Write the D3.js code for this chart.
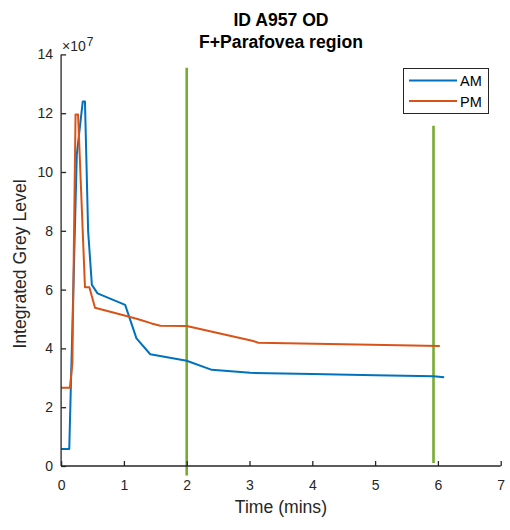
<!DOCTYPE html>
<html><head><meta charset="utf-8">
<script src="https://cdn.jsdelivr.net/npm/d3@7"></script>
<style>body{margin:0;background:#fff}svg{display:block;font-family:"Liberation Sans",Arial,sans-serif}</style>
</head><body><svg id="c" width="510" height="530"></svg>
<script>
const titleLines = ["ID A957 OD", "F+Parafovea region"];
const xLabel = "Time (mins)";
const yLabel = "Integrated Grey Level";
const xTicks = [0,1,2,3,4,5,6,7];
const yTicks = [0,2,4,6,8,10,12,14];
const seriesNames = ["AM", "PM"];
// values in units of 1e7
const amTime = [0,0.13,0.25,0.345,0.38,0.43,0.49,0.58,1.02,1.20,1.42,2.0,2.40,3.01,4.0,5.0,5.93,6.10];
const amVal  = [0.58,0.58,10.6,12.4,12.4,8.0,6.16,5.87,5.48,4.34,3.8,3.58,3.27,3.17,3.13,3.09,3.05,3.02];
const pmTime = [0,0.14,0.18,0.23,0.27,0.38,0.45,0.54,1.04,1.23,1.44,1.58,2.0,3.06,3.14,4.5,6.03];
const pmVal  = [2.66,2.66,3.5,11.96,11.96,6.08,6.08,5.38,5.1,4.99,4.85,4.77,4.76,4.25,4.19,4.14,4.08];
const markTime = [2.0, 5.93];
const markLow  = [-0.32, 0.1];
const markHigh = [13.55, 11.57];
const colors = ["#0072BD", "#D95319"];
const markColor = "#77AC30";

const svg = d3.select("#c");
const x = d3.scaleLinear().domain([0,7]).range([61.1,500.7]);
const y = d3.scaleLinear().domain([0,14]).range([466,54.4]);
const axisColor = "#262626";
const font = '"Liberation Sans",Arial,sans-serif';

// title
svg.append("g").selectAll("text").data(titleLines).join("text")
  .attr("x", 281).attr("y", (d,i)=>26+i*22).attr("text-anchor","middle")
  .attr("font-weight","bold").attr("font-size",17.6).attr("fill","#000").text(d=>d);

// green marker lines
svg.append("g").selectAll("line").data(markTime).join("line")
  .attr("x1",d=>x(d)).attr("x2",d=>x(d))
  .attr("y1",(d,i)=>y(markLow[i])).attr("y2",(d,i)=>y(markHigh[i]))
  .attr("stroke",markColor).attr("stroke-width",2.6);

// data lines
const line = d3.line().x(d=>x(d[0])).y(d=>y(d[1]));
const series = [d3.zip(amTime, amVal), d3.zip(pmTime, pmVal)];
svg.append("g").selectAll("path").data(series).join("path")
  .attr("d", line).attr("fill","none").attr("stroke",(d,i)=>colors[i])
  .attr("stroke-width",2).attr("stroke-linejoin","round");

// axes
const xAxis = d3.axisBottom(x).tickValues(xTicks).tickSizeInner(-5).tickSizeOuter(0).tickPadding(14).tickFormat(d3.format("d"));
const gx = svg.append("g").attr("transform",`translate(0,${y(0)})`).call(xAxis);
const yAxis = d3.axisLeft(y).tickValues(yTicks).tickSizeInner(-5).tickSizeOuter(0).tickPadding(8).tickFormat(d3.format("d"));
const gy = svg.append("g").attr("transform",`translate(${x(0)},0)`).call(yAxis);
[gx,gy].forEach(g=>{
  g.select(".domain").attr("stroke",axisColor).attr("stroke-width",1.3);
  g.selectAll(".tick line").attr("stroke",axisColor).attr("stroke-width",1.3);
  g.selectAll(".tick text").attr("fill",axisColor).attr("font-size",14).attr("font-family",font);
});
gx.select(".domain").attr("d",`M${x(0)},0H${x(7)}`);
gy.select(".domain").attr("d",`M0,${y(0)}V${y(14)}`);

// exponent
const ex = svg.append("text").attr("x",62).attr("y",51).attr("fill",axisColor).attr("font-size",14);
ex.append("tspan").text("\u00d710");
ex.append("tspan").attr("dx",1).attr("dy",-5).attr("font-size",12).text("7");

// axis labels
svg.append("text").attr("x",x(3.5)).attr("y",513).attr("text-anchor","middle")
  .attr("font-size",17.6).attr("fill",axisColor).text(xLabel);
svg.append("text").attr("transform",`translate(26,264) rotate(-90)`).attr("text-anchor","middle")
  .attr("font-size",17.6).attr("fill",axisColor).text(yLabel);

// legend
const lg = svg.append("g");
lg.append("rect").attr("x",403.5).attr("y",68.5).attr("width",85).attr("height",45)
  .attr("fill","#fff").attr("stroke",axisColor).attr("stroke-width",1);
seriesNames.forEach((n,i)=>{
  const yy = 80.5 + i*20.5;
  lg.append("line").attr("x1",409).attr("x2",457).attr("y1",yy).attr("y2",yy)
    .attr("stroke",colors[i]).attr("stroke-width",2);
  lg.append("text").attr("x",460).attr("y",yy+5.5).attr("font-size",14.5).attr("fill","#000").text(n);
});
</script></body></html>
